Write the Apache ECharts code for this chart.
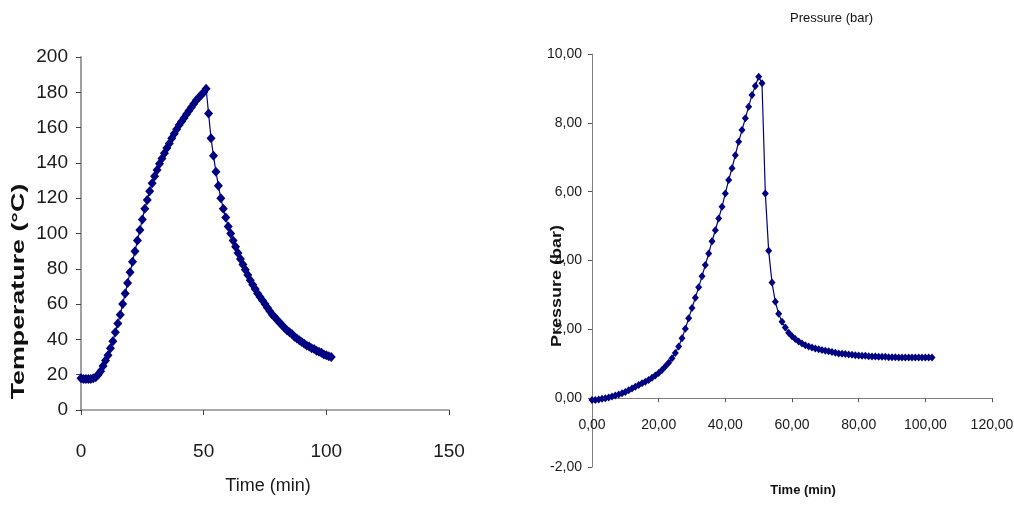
<!DOCTYPE html>
<html><head><meta charset="utf-8">
<script src="https://cdn.jsdelivr.net/npm/echarts@6/dist/echarts.min.js"></script>
<style>html,body{margin:0;padding:0;background:#fff}#c{width:1014px;height:505px}</style>
</head><body><div id="c"></div>
<script>
// time in minutes (one reading per minute)
const timeMin = [0,1,2,3,4,5,6,7,8,9,10,11,12,13,14,15,16,17,18,19,20,21,22,23,24,25,26,27,28,29,30,31,32,33,34,35,36,37,38,39,40,41,42,43,44,45,46,47,48,49,50,51,52,53,54,55,56,57,58,59,60,61,62,63,64,65,66,67,68,69,70,71,72,73,74,75,76,77,78,79,80,81,82,83,84,85,86,87,88,89,90,91,92,93,94,95,96,97,98,99,100,101,102];
// temperature (°C)
const temperatureC = [18,17.5,17.5,17.5,17.5,18,18.5,20,22,25,
28,31,35,39,44,49,54,60,66,72,
78,84,90,96,102,108,114,119,124,128.5,
132.5,136,139.5,142.5,145.5,148.5,151,154,156.5,159,
161.5,163.5,165.5,167.5,169.5,171.5,173.5,175.5,177,178.5,
180,182,168,154,144,135,127,120,114,109,
104,100,96,92.5,89,85.5,82.5,79.5,76.5,73.5,
71,68.5,66,64,62,60,58,56,54,52.5,
51,49.5,48,46.5,45,44,43,41.5,40.5,39.5,
38.5,37.5,36.5,36,35,34.5,33.5,33,32.5,31.5,
31,30.5,30];
// pressure (bar)
const pressureBar = [-0.05,-0.05,-0.04,-0.02,0.00,0.02,0.05,0.08,0.11,0.14,
0.18,0.23,0.28,0.33,0.38,0.43,0.48,0.53,0.59,0.66,
0.73,0.82,0.92,1.03,1.16,1.31,1.50,1.74,2.02,2.32,
2.62,2.92,3.22,3.54,3.87,4.20,4.56,4.88,5.22,5.56,
5.95,6.34,6.68,7.06,7.45,7.79,8.13,8.47,8.81,9.07,
9.34,9.15,5.95,4.28,3.36,2.80,2.45,2.22,2.05,1.90,
1.80,1.72,1.65,1.59,1.54,1.50,1.47,1.44,1.42,1.40,
1.38,1.36,1.34,1.32,1.30,1.29,1.28,1.27,1.26,1.25,
1.24,1.23,1.23,1.22,1.21,1.21,1.20,1.20,1.20,1.19,
1.19,1.19,1.18,1.18,1.18,1.18,1.18,1.18,1.18,1.18,
1.18,1.18,1.18];
// axis scales
const tempAxis = {min: 0, max: 200, interval: 20};
const timeAxisL = {min: 0, max: 150, interval: 50};
const presAxis = {min: -2, max: 10, interval: 2};
const timeAxisR = {min: 0, max: 120, interval: 20};

const FONT = "'Liberation Sans',Arial,sans-serif";
const navy = '#000080';
const comma = v => v.toFixed(2).replace('.', ',');

const chart = echarts.init(document.getElementById('c'), null, {renderer: 'canvas'});
chart.setOption({
  backgroundColor: '#ffffff',
  animation: false,
  title: {
    text: 'Pressure (bar)', left: 790, top: 12, padding: 0,
    textStyle: {fontFamily: FONT, fontSize: 13, fontWeight: 'normal', color: '#111'}
  },
  grid: [
    {left: 81, top: 57, width: 368, height: 353, containLabel: false, outerBoundsMode: 'none'},
    {left: 592, top: 54, width: 400, height: 413, containLabel: false, outerBoundsMode: 'none'}
  ],
  xAxis: [
    {type: 'value', gridIndex: 0, min: timeAxisL.min, max: timeAxisL.max, interval: timeAxisL.interval,
     name: 'Time (min)', nameLocation: 'middle', nameGap: 67,
     nameTextStyle: {fontFamily: FONT, fontSize: 18, color: '#1a1a1a', padding: [0, 0, 0, 6]},
     axisLine: {lineStyle: {color: '#8c8c8c', width: 1.5}},
     axisTick: {show: true, length: 5, lineStyle: {color: '#444'}},
     axisLabel: {margin: 32, fontFamily: FONT, fontSize: 19, color: '#1a1a1a'},
     splitLine: {show: false}},
    {type: 'value', gridIndex: 1, min: timeAxisR.min, max: timeAxisR.max, interval: timeAxisR.interval,
     name: 'Time (min)', nameLocation: 'middle', nameGap: 17,
     nameTextStyle: {fontFamily: FONT, fontSize: 13, fontWeight: 'bold', color: '#111', padding: [0, 0, 0, 22]},
     axisLine: {onZero: true, lineStyle: {color: '#808080', width: 1}},
     axisTick: {show: true, length: 4, lineStyle: {color: '#555'}},
     axisLabel: {margin: -49, fontFamily: FONT, fontSize: 14, color: '#1a1a1a', formatter: comma},
     splitLine: {show: false}}
  ],
  yAxis: [
    {type: 'value', gridIndex: 0, min: tempAxis.min, max: tempAxis.max, interval: tempAxis.interval,
     axisLine: {show: true, lineStyle: {color: '#a0a0a0', width: 2}},
     axisTick: {show: true, length: 5, lineStyle: {color: '#444'}},
     axisLabel: {margin: 13, fontFamily: FONT, fontSize: 19, color: '#1a1a1a'},
     splitLine: {show: false}},
    {type: 'value', gridIndex: 1, min: presAxis.min, max: presAxis.max, interval: presAxis.interval,
     axisLine: {show: true, onZero: false, lineStyle: {color: '#808080', width: 1}},
     axisTick: {show: true, length: 4, lineStyle: {color: '#555'}},
     axisLabel: {margin: 10, fontFamily: FONT, fontSize: 14, color: '#1a1a1a', formatter: comma},
     splitLine: {show: false}}
  ],
  graphic: [
    {type: 'text', x: 19, y: 291.5, rotation: Math.PI / 2, scaleX: 1.41, z: 10,
     style: {text: 'Temperature (°C)', font: "bold 19px 'Liberation Sans', Arial, sans-serif", fill: '#111',
             align: 'center', verticalAlign: 'middle', textAlign: 'center', textVerticalAlign: 'middle'}},
    {type: 'text', x: 557, y: 286, rotation: Math.PI / 2, scaleX: 1.2, z: 10,
     style: {text: 'Pressure (bar)', font: "bold 15px 'Liberation Sans', Arial, sans-serif", fill: '#111',
             align: 'center', verticalAlign: 'middle', textAlign: 'center', textVerticalAlign: 'middle'}}
  ],
  series: [
    {type: 'line', xAxisIndex: 0, yAxisIndex: 0,
     data: timeMin.map((t, i) => [t, temperatureC[i]]),
     symbol: 'diamond', symbolSize: [9, 10], showAllSymbol: true,
     lineStyle: {color: navy, width: 1.2}, itemStyle: {color: navy}},
    {type: 'line', xAxisIndex: 1, yAxisIndex: 1,
     data: timeMin.map((t, i) => [t, pressureBar[i]]),
     symbol: 'diamond', symbolSize: [7, 8], showAllSymbol: true,
     lineStyle: {color: navy, width: 1.2}, itemStyle: {color: navy}}
  ]
});
</script></body></html>
